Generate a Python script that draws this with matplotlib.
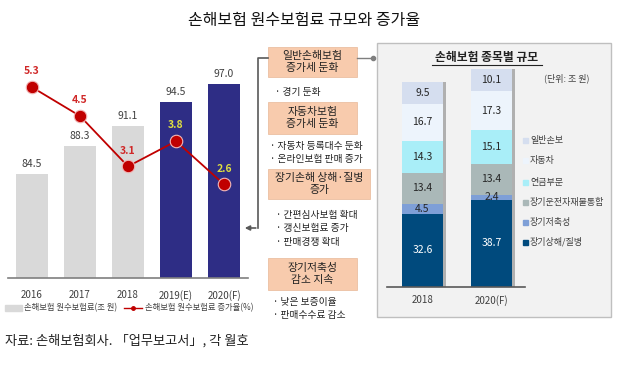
import matplotlib
matplotlib.use("Agg")
import matplotlib.pyplot as plt
import matplotlib.patches as patches

plt.rcParams['font.family'] = ['Noto Sans CJK KR', 'DejaVu Sans']

# 왼쪽: 원수보험료 규모와 증가율
years = ['2016', '2017', '2018', '2019(E)', '2020(F)']
premium = [84.5, 88.3, 91.1, 94.5, 97.0]
growth = [5.3, 4.5, 3.1, 3.8, 2.6]
bar_colors = ['#d9d9d9', '#d9d9d9', '#d9d9d9', '#2e2d85', '#2e2d85']
growth_label_colors = ['#d02828', '#d02828', '#d02828', '#e0e040', '#e0e040']

# 오른쪽: 종목별 규모
stack_years = ['2018', '2020(F)']
stack_names = ['장기상해/질병', '장기저축성', '장기운전자재물통합', '연금부문', '자동차', '일반손보']
stack_values = [
    [32.6, 38.7],
    [4.5, 2.4],
    [13.4, 13.4],
    [14.3, 15.1],
    [16.7, 17.3],
    [9.5, 10.1],
]
stack_colors = ['#004a7d', '#7e9fd7', '#aab8b8', '#a9eef8', '#edf4fc', '#d5deef']

# 가운데 설명 상자
box_titles = ['일반손해보험\n증가세 둔화', '자동차보험\n증가세 둔화', '장기손해 상해·질병\n증가', '장기저축성\n감소 지속']
box_bullets = [
    ['· 경기 둔화'],
    ['· 자동차 등록대수 둔화', '· 온라인보험 판매 증가'],
    ['· 간편심사보험 확대', '· 갱신보험료 증가', '· 판매경쟁 확대'],
    ['· 낮은 보증이율', '· 판매수수료 감소'],
]

W, H = 640, 368
fig = plt.figure(figsize=(W / 100, H / 100), dpi=100)
fig.patch.set_facecolor('white')


def frac(x0, y_top, w, h):
    return [x0 / W, 1 - (y_top + h) / H, w / W, h / H]


# overlay in pixel coordinates for boxes and texts
ov = fig.add_axes([0, 0, 1, 1], zorder=0)
ov.set_xlim(0, W)
ov.set_ylim(H, 0)
ov.axis('off')

ov.text(304, 21, '손해보험 원수보험료 규모와 증가율', ha='center', va='center',
        fontsize=11.5, color='#111111')

# ---- left chart ----
ax = fig.add_axes(frac(8, 62, 240, 216), zorder=2)
ax.patch.set_alpha(0)
xs = range(len(years))
ax.bar(xs, premium, width=0.67, color=bar_colors, zorder=1)
ax.set_ylim(70, 100)
ax.set_xlim(-0.5, 4.5)
for x, v in zip(xs, premium):
    ax.text(x, v + 0.7, f'{v:.1f}', ha='center', va='bottom', fontsize=7.5, color='#404040')
ax.set_xticks(list(xs))
ax.set_xticklabels(years, fontsize=7, color='#404040')
ax.tick_params(axis='x', length=0, pad=9)
ax.set_yticks([])
for s in ['left', 'right', 'top']:
    ax.spines[s].set_visible(False)
ax.spines['bottom'].set_color('#7f7f7f')
ax.spines['bottom'].set_linewidth(1.2)

ax2 = ax.twinx()
ax2.set_ylim(0, 6)
ax2.plot(list(xs), growth, color='#c00000', lw=1.3, marker='o', ms=9,
         mfc='#c00000', mec='#f2b8b8', mew=0.8, zorder=3)
for x, v, c in zip(xs, growth, growth_label_colors):
    ax2.text(x, v + 0.3, f'{v:.1f}', ha='center', va='bottom', fontsize=7.5,
             color=c, fontweight='bold')
ax2.set_yticks([])
for s in ['left', 'right', 'top', 'bottom']:
    ax2.spines[s].set_visible(False)

# legend of left chart
ov.add_patch(patches.Rectangle((5, 305), 17, 6, color='#d9d9d9'))
ov.text(24, 308, '손해보험 원수보험료(조 원)', va='center', fontsize=6, color='#404040')
ov.plot([124, 142], [308, 308], color='#c00000', lw=1)
ov.plot([133], [308], 'o', color='#c00000', ms=2.5)
ov.text(145, 308, '손해보험 원수보험료 증가율(%)', va='center', fontsize=6, color='#404040')

ov.text(5, 341, '자료: 손해보험회사. 「업무보고서」, 각 월호', va='center',
        fontsize=9.5, color='#222222')

# ---- middle boxes ----
box_tops = [47, 102, 169, 258]
box_h = [30, 32, 30, 32]
box_w = [89, 89, 102, 89]
bullet_x = [275, 270, 276, 273]
bullet_y0 = [92, 146, 215, 302]
bullet_dy = 13.3
for i, t in enumerate(box_titles):
    ov.add_patch(patches.Rectangle((268, box_tops[i]), box_w[i], box_h[i], facecolor='#f8cbad',
                                   edgecolor='#e8b898', lw=0.5))
    ov.text(268 + box_w[i] / 2, box_tops[i] + box_h[i] / 2, t, ha='center', va='center',
            fontsize=7.8, color='#222222', linespacing=1.15)
    for j, b in enumerate(box_bullets[i]):
        ov.text(bullet_x[i], bullet_y0[i] + j * bullet_dy, b, va='center', fontsize=7,
                color='#222222')

# bracket arrow to left chart
ov.plot([268, 258, 258], [58, 58, 228], color='#595959', lw=1.2)
ov.annotate('', xy=(242, 228), xytext=(258.6, 228),
            arrowprops=dict(arrowstyle='-|>', color='#595959', lw=1.2, mutation_scale=7))
# line to right panel
ov.plot([357, 373], [58, 58], color='#7f7f7f', lw=1)
ov.plot([373], [58], 'o', color='#7f7f7f', ms=3)

# ---- right panel ----
ov.add_patch(patches.Rectangle((377, 43), 234, 274, facecolor='#f2f2f2',
                               edgecolor='#bfbfbf', lw=1))
ov.text(487, 57, '손해보험 종목별 규모', ha='center', va='center', fontsize=8.5,
        fontweight='bold', color='#222222')
ov.plot([432, 542], [65, 65], color='#222222', lw=0.8)
ov.text(567, 78, '(단위: 조 원)', ha='center', va='center', fontsize=6.5, color='#404040')

bx = fig.add_axes(frac(387, 62, 138, 225), zorder=2)
bx.patch.set_alpha(0)
pos = [0, 1]
totals = [sum(v[k] for v in stack_values) for k in range(2)]
bx.bar([p + 0.05 for p in pos], totals, width=0.594, color='#b0b0b0', zorder=1)
bottoms = [0, 0]
for name, vals, col in zip(stack_names, stack_values, stack_colors):
    bx.bar(pos, vals, width=0.594, bottom=bottoms, color=col, zorder=2)
    for k in range(2):
        tc = 'white' if name == '장기상해/질병' else '#262626'
        bx.text(pos[k], bottoms[k] + vals[k] / 2, f'{vals[k]:.1f}', ha='center',
                va='center', fontsize=7.5, color=tc, zorder=3)
    bottoms = [b + v for b, v in zip(bottoms, vals)]
bx.set_xlim(-0.514, 1.486)
bx.set_ylim(0, 100)
bx.set_xticks(pos)
bx.set_xticklabels(stack_years, fontsize=7, color='#404040')
bx.tick_params(axis='x', length=0, pad=6)
bx.set_yticks([])
for s in ['left', 'right', 'top']:
    bx.spines[s].set_visible(False)
bx.spines['bottom'].set_color('#595959')
bx.spines['bottom'].set_linewidth(1.2)

# legend of right panel (top to bottom)
leg_y = [140, 160, 182, 202, 222, 242]
for y, name, col in zip(leg_y, stack_names[::-1], stack_colors[::-1]):
    ov.add_patch(patches.Rectangle((523, y - 2.5), 5, 5, color=col))
    ov.text(530, y, name, va='center', fontsize=6.5, color='#404040')

fig.savefig('out.png', dpi=100)
